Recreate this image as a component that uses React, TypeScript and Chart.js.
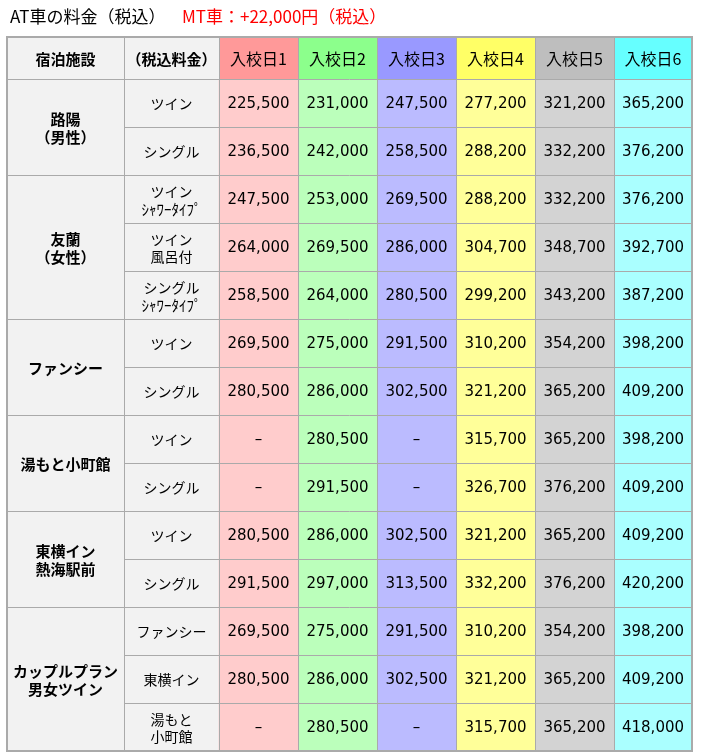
import { useEffect, useRef } from "react";
import { Chart, registerables } from "chart.js";

Chart.register(...registerables);

// ---- data ----
const titleMain = "AT車の料金（税込）";
const titleNote = "MT車：+22,000円（税込）";
const headerLabels = ["宿泊施設", "（税込料金）"];
const dateLabels = ["入校日1", "入校日2", "入校日3", "入校日4", "入校日5", "入校日6"];
const facilityLabels = [
  "路陽\n（男性）",
  "友蘭\n（女性）",
  "ファンシー",
  "湯もと小町館",
  "東横イン\n熱海駅前",
  "カップルプラン\n男女ツイン",
];
const facilitySpans = [2, 3, 2, 2, 2, 3];
const roomTypes = [
  "ツイン",
  "シングル",
  "ツイン\nｼｬﾜｰﾀｲﾌﾟ",
  "ツイン\n風呂付",
  "シングル\nｼｬﾜｰﾀｲﾌﾟ",
  "ツイン",
  "シングル",
  "ツイン",
  "シングル",
  "ツイン",
  "シングル",
  "ファンシー",
  "東横イン",
  "湯もと\n小町館",
];
const price1 = [225500, 236500, 247500, 264000, 258500, 269500, 280500, null, null, 280500, 291500, 269500, 280500, null];
const price2 = [231000, 242000, 253000, 269500, 264000, 275000, 286000, 280500, 291500, 286000, 297000, 275000, 286000, 280500];
const price3 = [247500, 258500, 269500, 286000, 280500, 291500, 302500, null, null, 302500, 313500, 291500, 302500, null];
const price4 = [277200, 288200, 288200, 304700, 299200, 310200, 321200, 315700, 326700, 321200, 332200, 310200, 321200, 315700];
const price5 = [321200, 332200, 332200, 348700, 343200, 354200, 365200, 365200, 376200, 365200, 376200, 354200, 365200, 365200];
const price6 = [365200, 376200, 376200, 392700, 387200, 398200, 409200, 398200, 409200, 409200, 420200, 398200, 409200, 418000];

const prices = [price1, price2, price3, price4, price5, price6];

// ---- styles / layout ----
const colWidths = [117, 95, 79, 79, 79, 79, 79, 78];
const colEdges = colWidths.reduce<number[]>((a, w) => { a.push(a[a.length - 1] + w); return a; }, [0]);
const headerColors = ["#ff9999", "#8cff8c", "#9999ff", "#ffff66", "#bebebe", "#66ffff"];
const bodyColors = ["#ffcccc", "#bbffbb", "#bbbbff", "#ffff99", "#d3d3d3", "#aaffff"];
const labelBg = "#f2f2f2";
const gridColor = "#aaaaaa";
const HEADER_H = 42;
const CJK = "'Noto Sans CJK JP', sans-serif";
const NUM = "'DejaVu Sans', 'Noto Sans CJK JP', sans-serif";

function fmt(v: number | null) {
  return v == null ? "–" : v.toLocaleString("en-US");
}

function drawLines(ctx: CanvasRenderingContext2D, text: string, cx: number, cy: number, lh: number) {
  const lines = text.split("\n");
  const start = cy - ((lines.length - 1) * lh) / 2;
  lines.forEach((l, i) => ctx.fillText(l, cx, start + i * lh));
}

const tablePlugin = {
  id: "priceTable",
  beforeDatasetsDraw(chart: any) {
    const ctx: CanvasRenderingContext2D = chart.ctx;
    const xs = chart.scales.x;
    const area = chart.chartArea;
    const cx = (i: number) => xs.getPixelForValue(colEdges[i]);
    const top = area.top - HEADER_H;
    ctx.save();
    ctx.fillStyle = labelBg;
    ctx.fillRect(cx(0), top, cx(2) - cx(0), HEADER_H);
    dateLabels.forEach((_, k) => {
      ctx.fillStyle = headerColors[k];
      ctx.fillRect(cx(k + 2), top, cx(k + 3) - cx(k + 2), HEADER_H);
    });
    ctx.fillStyle = labelBg;
    ctx.fillRect(cx(0), area.top, cx(2) - cx(0), area.bottom - area.top);
    ctx.restore();
  },
  afterDatasetsDraw(chart: any) {
    const ctx: CanvasRenderingContext2D = chart.ctx;
    const xs = chart.scales.x;
    const ys = chart.scales.y;
    const area = chart.chartArea;
    const cx = (i: number) => xs.getPixelForValue(colEdges[i]);
    const rowEdge = (i: number) => ys.getPixelForValue(i - 0.5);
    const top = area.top - HEADER_H;
    const n = roomTypes.length;
    ctx.save();

    // grid lines
    ctx.strokeStyle = gridColor;
    ctx.lineWidth = 1;
    const groupEdges = new Set<number>([0]);
    let acc = 0;
    facilitySpans.forEach((s) => { acc += s; groupEdges.add(acc); });
    ctx.beginPath();
    ctx.moveTo(cx(0), Math.round(top) + 0.5);
    ctx.lineTo(cx(8), Math.round(top) + 0.5);
    for (let i = 0; i <= n; i++) {
      const yy = Math.round(rowEdge(i)) + 0.5;
      const x0 = groupEdges.has(i) ? cx(0) : cx(1);
      ctx.moveTo(x0, yy);
      ctx.lineTo(cx(8), yy);
    }
    for (let c = 0; c <= 8; c++) {
      const xx = Math.round(cx(c)) + 0.5;
      ctx.moveTo(xx, top);
      ctx.lineTo(xx, rowEdge(n));
    }
    ctx.stroke();
    ctx.beginPath();
    ctx.lineWidth = 2;
    ctx.rect(cx(0), top, cx(8) - cx(0), rowEdge(n) - top);
    ctx.stroke();

    ctx.fillStyle = "#000";
    ctx.textAlign = "center";
    ctx.textBaseline = "middle";
    const hy = top + HEADER_H / 2 + 1;
    ctx.font = `bold 15px ${CJK}`;
    headerLabels.forEach((t, i) => ctx.fillText(t, (cx(i) + cx(i + 1)) / 2, hy));
    ctx.font = `16px ${CJK}`;
    dateLabels.forEach((t, k) => ctx.fillText(t, (cx(k + 2) + cx(k + 3)) / 2, hy));

    // facility groups
    ctx.font = `bold 15px ${CJK}`;
    let r = 0;
    facilityLabels.forEach((t, g) => {
      const y0 = rowEdge(r);
      const y1 = rowEdge(r + facilitySpans[g]);
      drawLines(ctx, t, (cx(0) + cx(1)) / 2, (y0 + y1) / 2 + 1, 18);
      r += facilitySpans[g];
    });
    // room types
    roomTypes.forEach((t, i) => {
      const cy = ys.getPixelForValue(i) + 1;
      ctx.font = `14px ${CJK}`;
      if (t.includes("\n")) {
        const [a, b] = t.split("\n");
        ctx.fillText(a, (cx(1) + cx(2)) / 2, cy - 8.5);
        ctx.font = `${/[ｦ-ﾟ]/.test(b) ? 15 : 14}px ${CJK}`;
        ctx.fillText(b, (cx(1) + cx(2)) / 2, cy + 9);
      } else {
        ctx.fillText(t, (cx(1) + cx(2)) / 2, cy);
      }
    });
    // prices
    ctx.font = `15px ${NUM}`;
    prices.forEach((arr, k) => {
      arr.forEach((v, i) => {
        ctx.fillText(fmt(v), (cx(k + 2) + cx(k + 3)) / 2, ys.getPixelForValue(i) + 1);
      });
    });

    // title
    ctx.textAlign = "left";
    ctx.textBaseline = "alphabetic";
    ctx.font = `17px ${CJK}`;
    ctx.fillStyle = "#000";
    ctx.fillText(titleMain, 10, 23);
    ctx.fillStyle = "#ff0000";
    ctx.fillText(titleNote, 182, 23);
    ctx.restore();
  },
};

export default function App() {
  const ref = useRef<HTMLCanvasElement | null>(null);
  useEffect(() => {
    if (!ref.current) return;
    const chart = new Chart(ref.current, {
      type: "bar",
      data: {
        labels: roomTypes,
        datasets: prices.map((arr, k) => ({
          label: dateLabels[k],
          data: arr.map(() => [colEdges[k + 2], colEdges[k + 3]]),
          backgroundColor: bodyColors[k],
          borderWidth: 0,
          grouped: false,
          barPercentage: 1,
          categoryPercentage: 1,
        })),
      },
      options: {
        indexAxis: "y",
        responsive: false,
        animation: false,
        events: [],
        layout: { padding: { left: 7, right: 9, top: 79, bottom: 5 } },
        scales: {
          x: { type: "linear", min: 0, max: colEdges[colEdges.length - 1], display: false },
          y: { type: "category", display: false, offset: true },
        },
        plugins: { legend: { display: false }, tooltip: { enabled: false }, title: { display: false } },
      },
      plugins: [tablePlugin],
    } as any);
    return () => chart.destroy();
  }, []);
  return (
    <div style={{ position: "fixed", left: 0, top: 0, width: 701, height: 756, background: "#fff" }}>
      <canvas ref={ref} width={701} height={756} style={{ width: 701, height: 756, display: "block" }} />
    </div>
  );
}
